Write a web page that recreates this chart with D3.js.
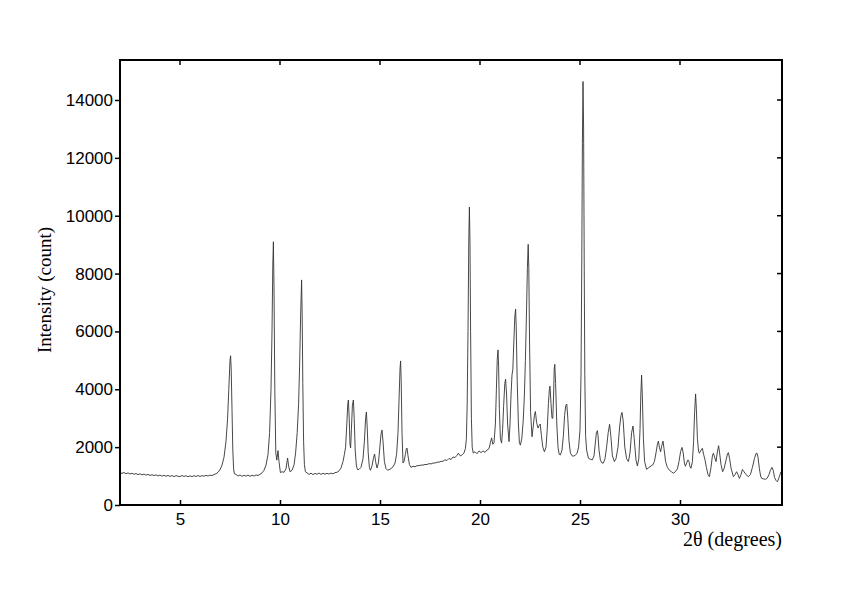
<!DOCTYPE html>
<html>
<head>
<meta charset="utf-8">
<script src="https://cdn.jsdelivr.net/npm/d3@7"></script>
<style>
  html, body { margin: 0; padding: 0; background: #fff; }
  svg { display: block; }
</style>
</head>
<body>
<svg id="chart" width="842" height="595"></svg>
<script>
// ---- data ----
const xTicks = [5, 10, 15, 20, 25, 30];
const yTicks = [0, 2000, 4000, 6000, 8000, 10000, 12000, 14000];
const xLabel = "2θ (degrees)";
const yLabel = "Intensity (count)";

const twoTheta = [
  2.0,2.1,2.2,2.3,2.4,2.5,2.6,2.7,2.8,2.9,3.0,3.1,3.2,3.3,3.4,3.5,3.6,3.7,3.8,3.9,
  4.0,4.1,4.2,4.3,4.4,4.5,4.6,4.7,4.8,4.9,5.0,5.1,5.2,5.3,5.4,5.5,5.6,5.7,5.8,5.9,
  6.0,6.1,6.2,6.3,6.4,6.5,6.6,6.7,6.8,6.9,7.0,7.1,7.2,7.3,7.38,7.44,7.5,7.53,7.56,7.6,
  7.64,7.68,7.72,7.8,7.9,8.0,8.1,8.2,8.3,8.4,8.5,8.6,8.7,8.8,8.9,9.0,9.1,9.2,9.3,9.4,
  9.48,9.55,9.6,9.64,9.67,9.7,9.74,9.79,9.84,9.9,9.95,10.02,10.1,10.2,10.3,10.35,10.38,10.43,10.5,10.6,
  10.7,10.78,10.86,10.93,10.98,11.03,11.08,11.11,11.14,11.18,11.22,11.27,11.35,11.45,11.55,11.65,11.75,11.85,11.95,12.05,
  12.15,12.25,12.35,12.45,12.55,12.65,12.75,12.85,12.95,13.05,13.15,13.22,13.28,13.34,13.39,13.42,13.46,13.5,13.53,13.57,
  13.62,13.67,13.71,13.76,13.82,13.88,13.95,14.05,14.15,14.22,14.28,14.32,14.36,14.41,14.47,14.52,14.6,14.68,14.73,14.78,
  14.85,14.92,14.98,15.05,15.1,15.15,15.22,15.3,15.38,15.45,15.55,15.65,15.75,15.83,15.9,15.96,16.0,16.03,16.06,16.1,
  16.15,16.2,16.27,16.32,16.35,16.4,16.47,16.55,16.65,16.75,16.85,16.95,17.05,17.15,17.25,17.35,17.45,17.55,17.65,17.75,
  17.85,17.95,18.05,18.15,18.25,18.35,18.45,18.55,18.65,18.75,18.85,18.92,18.98,19.04,19.12,19.2,19.27,19.32,19.36,19.4,
  19.44,19.47,19.5,19.53,19.57,19.61,19.66,19.75,19.85,19.95,20.05,20.15,20.25,20.35,20.45,20.52,20.58,20.64,20.7,20.77,
  20.82,20.86,20.9,20.93,20.97,21.02,21.08,21.13,21.18,21.24,21.28,21.33,21.38,21.45,21.5,21.55,21.6,21.64,21.69,21.74,
  21.78,21.81,21.86,21.92,21.97,22.02,22.09,22.16,22.22,22.27,22.32,22.37,22.41,22.44,22.48,22.53,22.6,22.66,22.72,22.77,
  22.83,22.9,22.96,23.01,23.07,23.14,23.22,23.3,23.36,23.42,23.47,23.5,23.55,23.6,23.64,23.68,23.71,23.74,23.78,23.84,
  23.9,23.96,24.02,24.1,24.17,24.23,24.29,24.34,24.39,24.45,24.52,24.6,24.68,24.76,24.85,24.93,25.0,25.05,25.09,25.12,
  25.15,25.18,25.21,25.24,25.28,25.33,25.42,25.52,25.62,25.7,25.76,25.82,25.87,25.9,25.95,26.02,26.1,26.17,26.25,26.33,
  26.41,26.48,26.54,26.62,26.72,26.8,26.9,26.98,27.05,27.1,27.16,27.24,27.33,27.42,27.5,27.58,27.65,27.71,27.8,27.87,
  27.94,28.0,28.04,28.08,28.12,28.17,28.23,28.33,28.45,28.55,28.63,28.72,28.8,28.87,28.92,28.97,29.03,29.09,29.15,29.2,
  29.28,29.37,29.47,29.57,29.67,29.77,29.87,29.95,30.03,30.1,30.16,30.22,30.27,30.33,30.4,30.45,30.5,30.55,30.62,30.68,
  30.73,30.78,30.82,30.87,30.93,30.97,31.05,31.12,31.18,31.25,31.32,31.4,31.47,31.55,31.62,31.67,31.73,31.8,31.86,31.93,
  31.98,32.05,32.13,32.2,32.3,32.38,32.42,32.48,32.56,32.67,32.75,32.83,32.9,32.97,33.05,33.12,33.2,33.3,33.42,33.52,
  33.62,33.72,33.8,33.85,33.9,33.97,34.03,34.08,34.18,34.28,34.35,34.45,34.52,34.6,34.66,34.73,34.8,34.87,34.95,35.05
];

const intensity = [
  1130,1090,1125,1080,1110,1070,1100,1060,1090,1050,1080,1040,1070,1030,1060,1020,1050,1015,1045,1005,
  1035,995,1030,990,1025,985,1020,980,1015,995,980,1020,985,1015,975,1010,980,1015,985,1020,
  985,1015,995,1025,1000,1035,1015,1055,1080,1130,1220,1380,1650,2200,3000,4000,5000,5160,4700,3300,
  1900,1250,1080,1060,1000,1040,990,1030,995,1035,990,1030,1000,1040,1020,1060,1110,1200,1380,1750,
  2500,4000,6000,8300,9100,7500,4000,1800,1550,1880,1500,1120,1150,1130,1250,1500,1620,1350,1150,1200,
  1380,1800,2500,3500,4800,6500,7780,6500,4200,2200,1400,1150,1110,1060,1100,1050,1095,1060,1105,1055,
  1100,1065,1095,1070,1105,1075,1120,1130,1180,1280,1500,1750,2000,2800,3500,3630,3000,2100,1970,2600,
  3450,3630,3000,1900,1350,1220,1230,1300,1600,2200,3000,3215,2700,1800,1300,1200,1350,1650,1760,1500,
  1280,1450,1900,2450,2590,2200,1500,1260,1200,1220,1260,1320,1450,1750,2500,3800,4700,4980,4300,2500,
  1450,1500,1750,1950,1970,1700,1400,1300,1340,1320,1360,1360,1380,1380,1400,1400,1430,1420,1450,1450,
  1480,1480,1510,1510,1560,1540,1610,1570,1660,1640,1720,1790,1720,1700,1740,1800,1950,2300,3500,6000,
  9200,10300,9000,6000,3000,2000,1800,1840,1770,1870,1810,1870,1820,1900,1950,2150,2320,2100,2150,2800,
  4000,5000,5360,4800,3300,2300,2140,2600,3400,4200,4350,3800,2800,2190,2800,3800,4500,4670,5600,6500,
  6770,6200,4300,2800,2150,2070,2300,2900,3800,5000,6500,8200,9010,8200,5500,3200,2360,2700,3100,3230,
  2850,2660,2750,2800,2400,2000,1840,2000,2600,3500,4000,4110,3500,3000,3000,3800,4700,4860,4200,2800,
  2000,1750,1730,1900,2400,3100,3450,3490,3000,2200,1800,1700,1690,1720,1780,2000,2600,4500,8500,12500,
  14640,13000,8500,4500,2400,1900,1620,1580,1560,1700,2100,2500,2570,2400,1900,1550,1450,1450,1600,2000,
  2500,2790,2400,1700,1500,1600,2000,2700,3100,3200,2900,2000,1600,1500,1800,2500,2730,2300,1550,1350,
  1600,2600,3800,4490,3700,2300,1500,1230,1300,1350,1380,1500,1800,2100,2210,2000,1840,2050,2210,1950,
  1500,1300,1200,1150,1100,1150,1250,1500,1850,1990,1800,1450,1340,1450,1560,1500,1320,1270,1500,2200,
  3200,3840,3300,2300,1850,1790,1900,1960,1750,1560,1300,1050,980,1300,1700,1790,1650,1500,1800,2050,
  1800,1400,1150,1250,1550,1780,1810,1600,1250,980,1050,1150,1050,920,1050,1230,1150,1050,980,1050,
  1300,1600,1780,1790,1650,1250,1000,920,900,890,920,1050,1200,1300,1200,950,850,800,950,1150
];

// ---- drawing ----
const svg = d3.select("#chart");
const mLeft = 120, mRight = 782, mTop = 60, mBottom = 505;

const x = d3.scaleLinear().domain([2, 35.1]).range([mLeft, mRight]);
const y = d3.scaleLinear().domain([0, 14000 * (mBottom - mTop) / 405]).range([mBottom, mTop]);

const pts = twoTheta.map((t, i) => [t, intensity[i]]);

svg.append("defs").append("clipPath").attr("id", "clip")
  .append("rect").attr("x", mLeft).attr("y", mTop).attr("width", mRight - mLeft).attr("height", mBottom - mTop);

svg.append("path")
  .datum(pts)
  .attr("clip-path", "url(#clip)")
  .attr("fill", "none")
  .attr("stroke", "#333")
  .attr("stroke-width", 0.9)
  .attr("d", d3.line().x(d => x(d[0])).y(d => y(d[1])));

// frame
svg.append("rect")
  .attr("x", mLeft).attr("y", mTop)
  .attr("width", mRight - mLeft).attr("height", mBottom - mTop)
  .attr("fill", "none").attr("stroke", "#000").attr("stroke-width", 2);

const tl = 5;
// bottom axis: inward ticks
const bottomAxis = d3.axisBottom(x).tickValues(xTicks).tickSize(0).tickPadding(8).tickFormat(d3.format("d"));
const gB = svg.append("g").attr("transform", `translate(0,${mBottom})`).call(bottomAxis);
gB.select(".domain").remove();
gB.selectAll("text").attr("font-family", "Liberation Sans, Arial, sans-serif").attr("font-size", 17).attr("fill", "#000");
gB.selectAll(".tick").append("line").attr("y1", 0).attr("y2", -tl).attr("stroke", "#000").attr("stroke-width", 1.5);

// top ticks inward
svg.append("g").selectAll("line").data(xTicks).join("line")
  .attr("x1", d => x(d)).attr("x2", d => x(d))
  .attr("y1", mTop).attr("y2", mTop + tl)
  .attr("stroke", "#000").attr("stroke-width", 1.5);

// left axis: outward ticks
const leftAxis = d3.axisLeft(y).tickValues(yTicks).tickSize(tl).tickPadding(2).tickFormat(d3.format("d"));
const gL = svg.append("g").attr("transform", `translate(${mLeft},0)`).call(leftAxis);
gL.select(".domain").remove();
gL.selectAll(".tick line").attr("stroke", "#000").attr("stroke-width", 1.5);
gL.selectAll("text").attr("font-family", "Liberation Sans, Arial, sans-serif").attr("font-size", 17).attr("fill", "#000");

// right ticks inward
svg.append("g").selectAll("line").data(yTicks).join("line")
  .attr("x1", mRight).attr("x2", mRight - tl)
  .attr("y1", d => y(d)).attr("y2", d => y(d))
  .attr("stroke", "#000").attr("stroke-width", 1.5);

// axis labels
svg.append("text")
  .attr("x", mRight).attr("y", 546)
  .attr("text-anchor", "end")
  .attr("font-family", "Liberation Serif, Times New Roman, serif")
  .attr("font-size", 20)
  .text(xLabel);

svg.append("text")
  .attr("transform", `translate(51,290) rotate(-90)`)
  .attr("text-anchor", "middle")
  .attr("font-family", "Liberation Serif, Times New Roman, serif")
  .attr("font-size", 19)
  .text(yLabel);
</script>
</body>
</html>
